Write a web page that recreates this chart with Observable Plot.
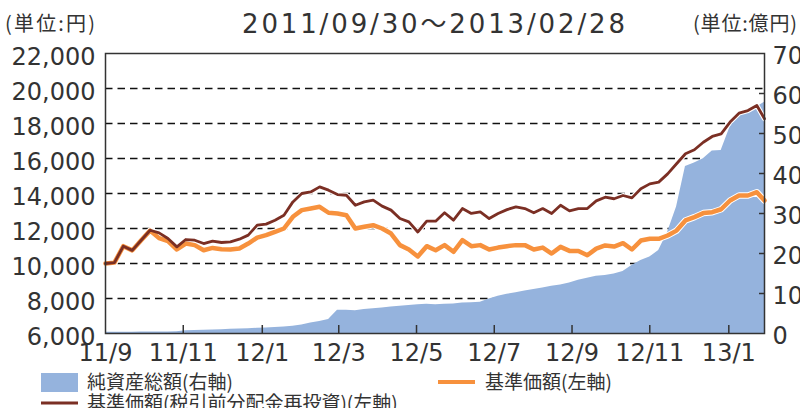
<!DOCTYPE html>
<html><head><meta charset="utf-8">
<script src="https://cdn.jsdelivr.net/npm/d3@7"></script>
<script src="https://cdn.jsdelivr.net/npm/@observablehq/plot@0.6"></script>
<style>
html,body{margin:0;padding:0;background:#fff;}
#chart svg{display:block;}
</style></head><body><div id="chart"></div>
<script>
// ---- data (weekly) ----
const dates = [
"2011-09-30","2011-10-07","2011-10-14","2011-10-21","2011-10-28","2011-11-04","2011-11-11","2011-11-18","2011-11-25","2011-12-02",
"2011-12-09","2011-12-16","2011-12-23","2011-12-30","2012-01-06","2012-01-13","2012-01-20","2012-01-27","2012-02-03","2012-02-10",
"2012-02-17","2012-02-24","2012-03-02","2012-03-09","2012-03-16","2012-03-23","2012-03-30","2012-04-06","2012-04-13","2012-04-20",
"2012-04-27","2012-05-04","2012-05-11","2012-05-18","2012-05-25","2012-06-01","2012-06-08","2012-06-15","2012-06-22","2012-06-29",
"2012-07-06","2012-07-13","2012-07-20","2012-07-27","2012-08-03","2012-08-10","2012-08-17","2012-08-24","2012-08-31","2012-09-07",
"2012-09-14","2012-09-21","2012-09-28","2012-10-05","2012-10-12","2012-10-19","2012-10-26","2012-11-02","2012-11-09","2012-11-16",
"2012-11-23","2012-11-30","2012-12-07","2012-12-14","2012-12-21","2012-12-28","2013-01-04","2013-01-11","2013-01-18","2013-01-25",
"2013-02-01","2013-02-08","2013-02-15","2013-02-22","2013-02-28"];

// 基準価額(税引前分配金再投資) (円, left axis)
const reinvValues = [
10000,10050,10990,10750,11330,11900,11750,11430,10950,11370,
11330,11140,11280,11200,11240,11390,11620,12190,12250,12475,
12760,13520,14000,14090,14380,14190,13940,13900,13330,13520,
13620,13280,13050,12570,12380,11800,12420,12420,12900,12475,
13140,12860,12950,12570,12860,13080,13240,13140,12900,13140,
12860,13330,13010,13140,13140,13580,13790,13700,13885,13750,
14270,14550,14650,15120,15700,16270,16500,16930,17260,17410,
18080,18590,18740,19030,18270];

// 基準価額 (円, left axis)
const priceValues = [
10000,10050,10990,10750,11330,11880,11450,11280,10800,11140,
11050,10760,10890,10820,10800,10860,11140,11480,11620,11810,
12000,12670,13050,13140,13240,12900,12860,12760,12000,12100,
12190,12000,11710,11050,10800,10400,10990,10760,11050,10670,
11330,10990,11050,10800,10910,10990,11050,11050,10800,10910,
10570,10950,10720,10720,10470,10850,11030,10970,11160,10800,
11310,11410,11410,11600,11880,12460,12650,12880,12930,13100,
13600,13885,13885,14075,13600];

// 純資産総額 (億円, right axis)
const navValues = [
0.3,0.3,0.3,0.3,0.35,0.35,0.4,0.4,0.45,0.7,
0.75,0.8,0.9,0.95,1.05,1.1,1.2,1.3,1.4,1.5,
1.6,1.8,2.1,2.6,3.0,3.5,5.8,5.8,5.7,6.0,
6.2,6.4,6.6,6.8,7.0,7.2,7.3,7.2,7.3,7.4,
7.6,7.7,7.8,8.6,9.3,9.8,10.2,10.6,11.0,11.4,
11.8,12.1,12.6,13.3,13.8,14.3,14.5,14.9,15.5,17.0,
18.25,19.1,20.75,25.3,31.6,41.75,42.6,43.7,45.6,45.75,
51.6,54.5,55.1,56.6,57.8];

const xDomain = ["2011-09-30","2013-02-28"];
const leftDomain = [6000, 22000];
const rightDomain = [0, 70];
const leftTicks = [6000,8000,10000,12000,14000,16000,18000,20000,22000];
const gridTicks = [8000,10000,12000,14000,16000,18000,20000];
const rightTicks = [0,10,20,30,40,50,60,70];
const xTickDates = ["2011-09-30","2011-11-30","2012-01-31","2012-03-31","2012-05-31","2012-07-31","2012-09-30","2012-11-30","2013-01-31"];
const xTickLabels = ["11/9","11/11","12/1","12/3","12/5","12/7","12/9","12/11","13/1"];

const titleText = "2011/09/30～2013/02/28";
const leftUnit = "(単位:円)";
const rightUnit = "(単位:億円)";
const legendNav = "純資産総額(右軸)";
const legendPrice = "基準価額(左軸)";
const legendReinv = "基準価額(税引前分配金再投資)(左軸)";

const blue = "#95b3dd", orange = "#f7913d", darkRed = "#7b2f24", ink = "#333";

// ---- build ----
const rows = dates.map((d, i) => ({date: new Date(d), reinv: reinvValues[i], price: priceValues[i], nav: navValues[i]}));
const k = (leftDomain[1] - leftDomain[0]) / (rightDomain[1] - rightDomain[0]);
const toLeft = r => leftDomain[0] + (r - rightDomain[0]) * k;
const fromLeft = v => Math.round((v - leftDomain[0]) / k + rightDomain[0]);
const tickDates = xTickDates.map(s => new Date(s));
const tickLabel = d => xTickLabels[tickDates.findIndex(t => +t === +d)];

const chart = Plot.plot({
  width: 800, height: 408,
  marginTop: 53, marginBottom: 75, marginLeft: 105, marginRight: 36,
  style: {fontFamily: "'DejaVu Sans', sans-serif", fontSize: "24px", color: ink, background: "#fff"},
  x: {type: "utc", domain: xDomain.map(s => new Date(s))},
  y: {domain: leftDomain},
  marks: [
    Plot.ruleY(gridTicks, {stroke: "#111", strokeWidth: 1.3, strokeDasharray: "7.5,5"}),
    Plot.areaY(rows, {x: "date", y1: leftDomain[0], y2: d => toLeft(d.nav), fill: blue}),
    Plot.lineY(rows, {x: "date", y: "price", stroke: "#fff", strokeWidth: 6.5, strokeLinejoin: "round"}),
    Plot.lineY(rows, {x: "date", y: "reinv", stroke: "#fff", strokeWidth: 5, strokeLinejoin: "round"}),
    Plot.lineY(rows, {x: "date", y: "price", stroke: orange, strokeWidth: 4.5, strokeLinejoin: "round"}),
    Plot.lineY(rows, {x: "date", y: "reinv", stroke: darkRed, strokeWidth: 2.8, strokeLinejoin: "round"}),
    Plot.frame({stroke: ink, strokeWidth: 1.5}),
    Plot.axisY(leftTicks, {anchor: "left", tickSize: 0, tickPadding: 10, dy: 3.5, tickFormat: d3.format(","), label: null}),
    Plot.axisY(rightTicks.map(toLeft), {anchor: "right", tickSize: 0, tickPadding: 8, dy: 2.5, tickFormat: fromLeft, label: null}),
    Plot.axisY(rightTicks.slice(1, -1).map(toLeft), {anchor: "right", tickSize: 6, dx: -6, fill: "none", stroke: ink, strokeWidth: 1.5, label: null}),
    Plot.axisX(tickDates, {anchor: "bottom", tickSize: 0, tickPadding: 10, tickFormat: tickLabel, label: null}),
    Plot.axisX(tickDates.slice(1), {anchor: "bottom", tickSize: 8, dy: -8, fill: "none", stroke: ink, strokeWidth: 1.5, label: null})
  ]
});

const svg = d3.select(chart);
const jp = "'Noto Sans CJK JP', 'DejaVu Sans', sans-serif";
function txt(x, y, s, size, family, extra) {
  const t = svg.append("text").attr("x", x).attr("y", y).attr("font-size", size)
    .attr("font-family", family).attr("fill", ink).attr("text-anchor", "start").text(s);
  if (extra) extra(t);
  return t;
}
txt(5, 31, leftUnit, 20, jp, t => t.attr("textLength", 90).attr("lengthAdjust", "spacing"));
txt(693, 31, rightUnit, 20, jp, t => t.attr("textLength", 104).attr("lengthAdjust", "spacing"));
txt(242, 33, titleText, 26, "'DejaVu Sans', 'Noto Sans CJK JP', sans-serif",
  t => t.attr("textLength", 383).attr("lengthAdjust", "spacing"));

// legend
svg.append("rect").attr("x", 41).attr("y", 373).attr("width", 37).attr("height", 19).attr("fill", blue);
txt(87, 389, legendNav, 19, jp);
svg.append("line").attr("x1", 438).attr("x2", 475).attr("y1", 382).attr("y2", 382).attr("stroke", orange).attr("stroke-width", 4);
txt(485, 389, legendPrice, 19, jp);
svg.append("line").attr("x1", 41).attr("x2", 78).attr("y1", 403).attr("y2", 403).attr("stroke", darkRed).attr("stroke-width", 3);
txt(87, 410, legendReinv, 19, jp);

document.getElementById("chart").appendChild(chart);
</script>
</body></html>
